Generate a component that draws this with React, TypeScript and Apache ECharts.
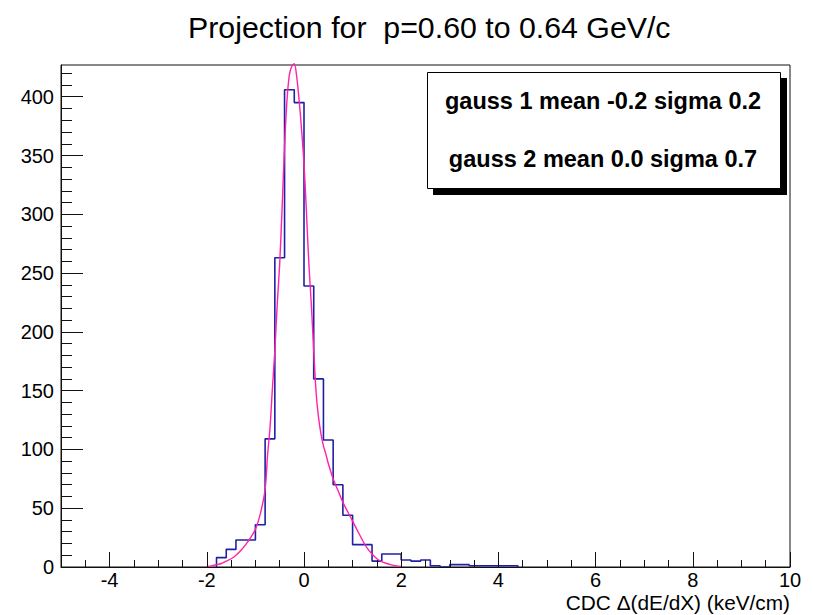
import React, { useEffect, useRef } from "react";
import * as echarts from "echarts";

const titleText = "Projection for  p=0.60 to 0.64 GeV/c";
const xAxisTitle = "CDC \u0394(dE/dX) (keV/cm)";
const legendLines = ["gauss 1 mean -0.2 sigma 0.2", "gauss 2 mean 0.0 sigma 0.7"];

// histogram: bins of width 0.2 starting at -1.8
const binStart = -1.8;
const binWidth = 0.2;
const binCounts = [8, 15, 23, 23, 36, 109, 263, 406, 395, 239, 160, 108, 70, 44, 19, 19, 5, 11, 11, 6, 5, 6, 1, 0, 2, 2, 1, 1, 1, 1, 1];

// fitted double-gaussian curve
const fitX = [-2.0, -1.9, -1.8, -1.7, -1.6, -1.5, -1.4, -1.3, -1.2, -1.1, -1.0, -0.9, -0.8,
  -0.75, -0.7, -0.65, -0.6, -0.55, -0.5, -0.45, -0.4, -0.35, -0.3, -0.25, -0.2, -0.15, -0.1, -0.05,
  0.0, 0.05, 0.1, 0.15, 0.2, 0.25, 0.3, 0.35, 0.4, 0.45, 0.5,
  0.6, 0.7, 0.8, 0.9, 1.0, 1.1, 1.2, 1.3, 1.4, 1.5, 1.6, 1.7, 1.8, 1.9, 2.0];
const fitY = [0.5, 1, 2, 3, 5, 7, 10, 14, 19, 25, 32, 45, 66,
  95, 118, 152, 184, 224, 258, 306, 358, 397, 419, 426, 428, 417, 397, 372, 343, 302, 258, 224, 184, 148, 127, 113, 103, 96, 88,
  75, 65, 55, 47, 39, 31, 23, 16, 11, 7, 4.5, 3, 1.8, 1, 0.5];

const xMajorTicks = [-4, -2, 0, 2, 4, 6, 8, 10];
const xMinorTicks = [-5, -4.5, -4, -3.5, -3, -2.5, -2, -1.5, -1, -0.5, 0, 0.5, 1, 1.5, 2, 2.5, 3, 3.5, 4, 4.5, 5, 5.5, 6, 6.5, 7, 7.5, 8, 8.5, 9, 9.5, 10];
const yMajorTicks = [0, 50, 100, 150, 200, 250, 300, 350, 400];
const yMinorTicks = [0, 10, 20, 30, 40, 50, 60, 70, 80, 90, 100, 110, 120, 130, 140, 150, 160, 170, 180, 190, 200, 210, 220, 230, 240, 250, 260, 270, 280, 290, 300, 310, 320, 330, 340, 350, 360, 370, 380, 390, 400, 410, 420];

const FONT = "Liberation Sans, Arial, Helvetica, sans-serif";

export default function App() {
  const ref = useRef<HTMLDivElement>(null);
  useEffect(() => {
    if (!ref.current) return;
    const chart = echarts.init(ref.current, null, { renderer: "svg" });

    const histData: number[][] = [[binStart, 0]];
    binCounts.forEach((c, i) => {
      const lo = binStart + i * binWidth;
      const hi = lo + binWidth;
      histData.push([lo, c], [hi, c]);
    });
    histData.push([binStart + binCounts.length * binWidth, 0]);
    const fitData = fitX.map((x, i) => [x, fitY[i]]);

    const axisColor = "#111";
    const option: any = {
      animation: false,
      backgroundColor: "#fff",
      title: {
        text: titleText,
        left: 183,
        top: 7,
        textStyle: { fontSize: 30.3, fontWeight: "normal", fontFamily: FONT, color: "#000" },
      },
      grid: {
        left: 61, top: 65, right: 23, bottom: 48,
        show: true, borderColor: axisColor, borderWidth: 1, backgroundColor: "transparent",
        containLabel: false,
      },
      xAxis: [
        {
          type: "value", min: -5, max: 10, position: "bottom", z: 10,
          axisLine: { show: true, onZero: false, lineStyle: { color: axisColor, width: 1 } },
          axisTick: { show: true, inside: true, length: 15, customValues: xMajorTicks, lineStyle: { color: axisColor, width: 1 } },
          axisLabel: { customValues: xMajorTicks, fontSize: 20, lineHeight: 20, fontFamily: FONT, color: "#000", margin: 3 },
          splitLine: { show: false },
        },
        {
          type: "value", min: -5, max: 10, position: "bottom", z: 10,
          axisLine: { show: false, onZero: false },
          axisTick: { show: true, inside: true, length: 7, customValues: xMinorTicks, lineStyle: { color: axisColor, width: 1 } },
          axisLabel: { show: false },
          splitLine: { show: false },
        },
      ],
      yAxis: [
        {
          type: "value", min: 0, max: 427, position: "left", z: 10,
          axisLine: { show: true, onZero: false, lineStyle: { color: axisColor, width: 1 } },
          axisTick: { show: true, inside: true, length: 22, customValues: yMajorTicks, lineStyle: { color: axisColor, width: 1 } },
          axisLabel: { customValues: yMajorTicks, fontSize: 20, fontFamily: FONT, color: "#000", margin: 7 },
          splitLine: { show: false },
        },
        {
          type: "value", min: 0, max: 427, position: "left", z: 10,
          axisLine: { show: false, onZero: false },
          axisTick: { show: true, inside: true, length: 11, customValues: yMinorTicks, lineStyle: { color: axisColor, width: 1 } },
          axisLabel: { show: false },
          splitLine: { show: false },
        },
      ],
      series: [
        {
          type: "line", name: "hist", data: histData, xAxisIndex: 0, yAxisIndex: 0,
          showSymbol: false, symbol: "none", clip: true,
          lineStyle: { color: "#2020a6", width: 1.6 },
          z: 3,
        },
        {
          type: "line", name: "fit", data: fitData, xAxisIndex: 0, yAxisIndex: 0,
          showSymbol: false, symbol: "none", smooth: 0.3, clip: false,
          lineStyle: { color: "#ff22aa", width: 1.4 },
          z: 4,
        },
      ],
      graphic: [
        { type: "rect", z: 100, shape: { x: 433, y: 78, width: 354, height: 117 }, style: { fill: "#000" } },
        { type: "rect", z: 101, shape: { x: 427.5, y: 72.5, width: 353, height: 116 }, style: { fill: "#fff", stroke: "#000", lineWidth: 1 } },
        { type: "text", z: 102, x: 603, y: 101, style: { text: legendLines[0], fontSize: 23.5, fontWeight: "bold", fontFamily: FONT, fill: "#000", align: "center", verticalAlign: "middle" } },
        { type: "text", z: 102, x: 603, y: 159, style: { text: legendLines[1], fontSize: 23.5, fontWeight: "bold", fontFamily: FONT, fill: "#000", align: "center", verticalAlign: "middle" } },
        { type: "text", z: 102, x: 790, y: 602, style: { text: xAxisTitle, fontSize: 20.8, lineHeight: 20, fontFamily: FONT, fill: "#000", align: "right", verticalAlign: "middle" } },
      ],
    };
    chart.setOption(option);
    return () => chart.dispose();
  }, []);
  return <div ref={ref} style={{ position: "absolute", left: 0, top: 0, width: 813, height: 615, background: "#fff" }} />;
}
